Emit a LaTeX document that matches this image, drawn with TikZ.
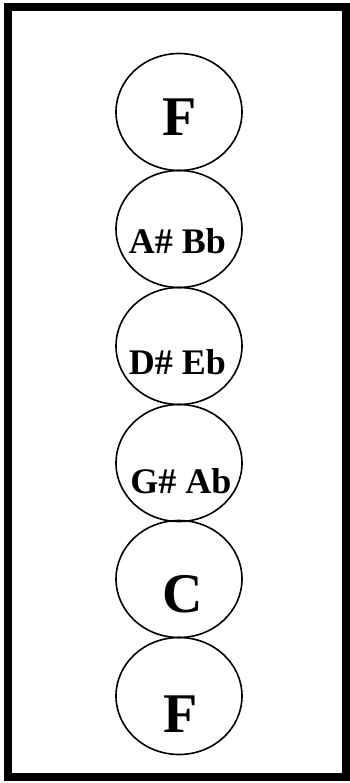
\documentclass[tikz,border=0pt]{standalone}
\usepackage{fontspec}
\setmainfont{Liberation Serif}
\usetikzlibrary{shapes.geometric}

\begin{document}
\begin{tikzpicture}[x=1pt, y=-1pt,
      note/.style={draw=black, ellipse, line width=1.6pt,
                   minimum width=126pt, minimum height=117pt,
                   inner sep=0pt},
      bignote/.style={anchor=base, inner sep=0pt,
                   font=\fontsize{56}{56}\selectfont\bfseries},
      smallnote/.style={anchor=base, inner sep=0pt,
                   font=\fontsize{36}{36}\selectfont\bfseries}]
    \useasboundingbox (0,0) rectangle (350,783);
    % Moldura
    \draw[line width=8pt] (7.5,7) rectangle (346,777);
    % Circulos
    \node[note] (n1) at (179,112) {};
    \node[note] (n2) at (179,229) {};
    \node[note] (n3) at (179,346) {};
    \node[note] (n4) at (179,463) {};
    \node[note] (n5) at (179,579) {};
    \node[note] (n6) at (179,696) {};
    % Notas
    \node[bignote]   (t1) at (180,136)   {F};
    \node[smallnote] (t2) at (177.5,254) {A\# Bb};
    \node[smallnote] (t3) at (177.5,374) {D\# Eb};
    \node[smallnote] (t4) at (181,493)   {G\# Ab};
    \node[bignote]   (t5) at (183,612)   {C};
    \node[bignote]   (t6) at (180.5,732) {F};
\end{tikzpicture}
\end{document}
